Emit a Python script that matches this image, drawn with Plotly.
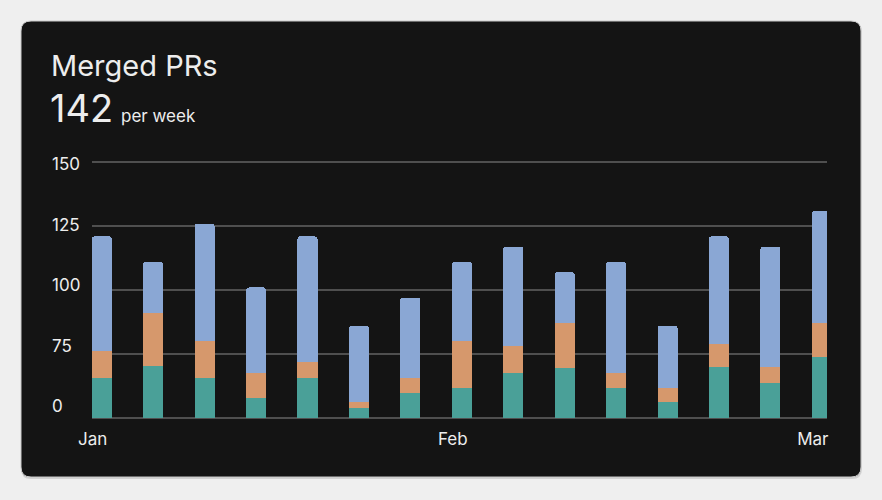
import plotly.graph_objects as go

# ---------------- data ----------------
weeks = list(range(15))
month_labels = ["Jan", "Feb", "Mar"]
month_weeks = [0, 7, 14]
teal_vals = [47, 61, 47, 23, 47, 12, 29, 35, 53, 58, 35, 18, 59, 41, 71]
orange_vals = [29, 30, 33, 30, 18, 6, 18, 45, 25, 29, 18, 17, 20, 18, 16]
blue_vals = [45, 20, 46, 48, 56, 68, 50, 31, 39, 20, 58, 51, 42, 58, 44]
y_tick_values = [0, 75, 100, 125, 150]
headline_value = "142"
headline_unit = "per week"
title_text = "Merged PRs"

# ---------------- axis scale (compressed 0-75 band) ----------------
def axis_pos(v):
    return v / 75.0 if v <= 75 else 1.0 + (v - 75) / 25.0

cum1 = [t for t in teal_vals]
cum2 = [t + o for t, o in zip(teal_vals, orange_vals)]
cum3 = [t + o + b for t, o, b in zip(teal_vals, orange_vals, blue_vals)]
seg_teal = [axis_pos(c) for c in cum1]
seg_orange = [axis_pos(c2) - axis_pos(c1) for c1, c2 in zip(cum1, cum2)]
seg_blue = [axis_pos(c3) - axis_pos(c2) for c2, c3 in zip(cum2, cum3)]

# ---------------- layout geometry ----------------
FW, FH = 882, 500
L, R, T, B = 48, 55, 161, 81
PW, PH = FW - L - R, FH - T - B
PLOT_LEFT = 91.7

def px(x):
    return (x - L) / PW

def py(y):
    return 1 - (y - T) / PH

TEAL = "#4aa098"
ORANGE = "#d6986c"
BLUE = "#8aa7d4"
CARD = "#141414"
PAGE = "#efefef"
TEXT = "#ededed"
GRID = "#4f4f4f"
FONT = "Inter"

fig = go.Figure()
for name, seg, col, real in [("Teal", seg_teal, TEAL, teal_vals),
                             ("Orange", seg_orange, ORANGE, orange_vals),
                             ("Blue", seg_blue, BLUE, blue_vals)]:
    fig.add_trace(go.Bar(x=weeks, y=seg, name=name, marker=dict(color=col, line=dict(width=0)),
                         customdata=real, hovertemplate="%{customdata}<extra>" + name + "</extra>",
                         cliponaxis=False))
# label-only axis carrier (no visible marks)
fig.add_trace(go.Scatter(x=[], y=[], yaxis="y2", showlegend=False, hoverinfo="skip"))

def rounded_path(x0, y0, x1, y1, r):
    return (f"M {px(x0+r)},{py(y0)} L {px(x1-r)},{py(y0)} Q {px(x1)},{py(y0)} {px(x1)},{py(y0+r)} "
            f"L {px(x1)},{py(y1-r)} Q {px(x1)},{py(y1)} {px(x1-r)},{py(y1)} "
            f"L {px(x0+r)},{py(y1)} Q {px(x0)},{py(y1)} {px(x0)},{py(y1-r)} "
            f"L {px(x0)},{py(y0+r)} Q {px(x0)},{py(y0)} {px(x0+r)},{py(y0)} Z")

shapes = [
    dict(type="path", xref="paper", yref="paper", layer="below",
         path=rounded_path(21, 22, 862, 479, 10), fillcolor="rgba(0,0,0,0.12)", line=dict(width=0)),
    dict(type="path", xref="paper", yref="paper", layer="below",
         path=rounded_path(21, 21, 861, 477, 10), fillcolor=CARD, line=dict(color="#c9c9c9", width=1)),
]

annotations = [
    dict(text=title_text, xref="paper", yref="paper", x=px(49), y=py(65), xanchor="left", yanchor="middle",
         showarrow=False, font=dict(family=FONT, size=29, color=TEXT)),
    dict(text=headline_value, xref="paper", yref="paper", x=px(48), y=py(107.5), xanchor="left", yanchor="middle",
         showarrow=False, font=dict(family=FONT, size=38, color=TEXT)),
    dict(text=headline_unit, xref="paper", yref="paper", x=px(119), y=py(116), xanchor="left", yanchor="middle",
         showarrow=False, font=dict(family=FONT, size=17, color=TEXT)),
]

# label axis range: places tick labels at their (evenly spaced) positions in the reference
lab_top_px, lab_bot_px = 164.5, 406.0
plot_bot_px = T + PH
span = (axis_pos(150) - axis_pos(0)) * PH / (lab_bot_px - lab_top_px)
lab_lo = axis_pos(0) - (plot_bot_px - lab_bot_px) / PH * span
lab_range = [lab_lo, lab_lo + span]

bar_w = 0.39
fig.update_layout(
    width=FW, height=FH,
    margin=dict(l=L, r=R, t=T, b=B, pad=0),
    paper_bgcolor=PAGE, plot_bgcolor="rgba(0,0,0,0)",
    barmode="stack", bargap=1 - bar_w, barcornerradius=3,
    showlegend=False,
    shapes=shapes, annotations=annotations,
    font=dict(family=FONT, color=TEXT),
    xaxis=dict(domain=[px(PLOT_LEFT), 1], range=[-bar_w / 2, 14.1],
               tickvals=month_weeks, ticktext=month_labels, showgrid=False, zeroline=False,
               showline=False, ticks="", ticklabelshift=-9, ticklabelstandoff=8,
               tickfont=dict(family=FONT, size=17, color=TEXT)),
    yaxis=dict(range=[-0.02, 4.02], tickvals=[axis_pos(v) for v in y_tick_values],
               showticklabels=False, showgrid=True, gridcolor=GRID, gridwidth=1.6,
               zeroline=False, showline=False, ticks=""),
    yaxis2=dict(overlaying="y", anchor="free", position=0, side="left", range=lab_range,
                tickvals=[axis_pos(v) for v in y_tick_values], ticktext=[str(v) for v in y_tick_values],
                ticklabelposition="inside", ticklabeloverflow="allow",
                showgrid=False, zeroline=False, showline=False, ticks="",
                tickfont=dict(family=FONT, size=17, color=TEXT)),
)

fig.write_html("out.html", config={"displayModeBar": False},
               post_script="document.body.style.margin='0';document.body.style.background='#efefef';")
